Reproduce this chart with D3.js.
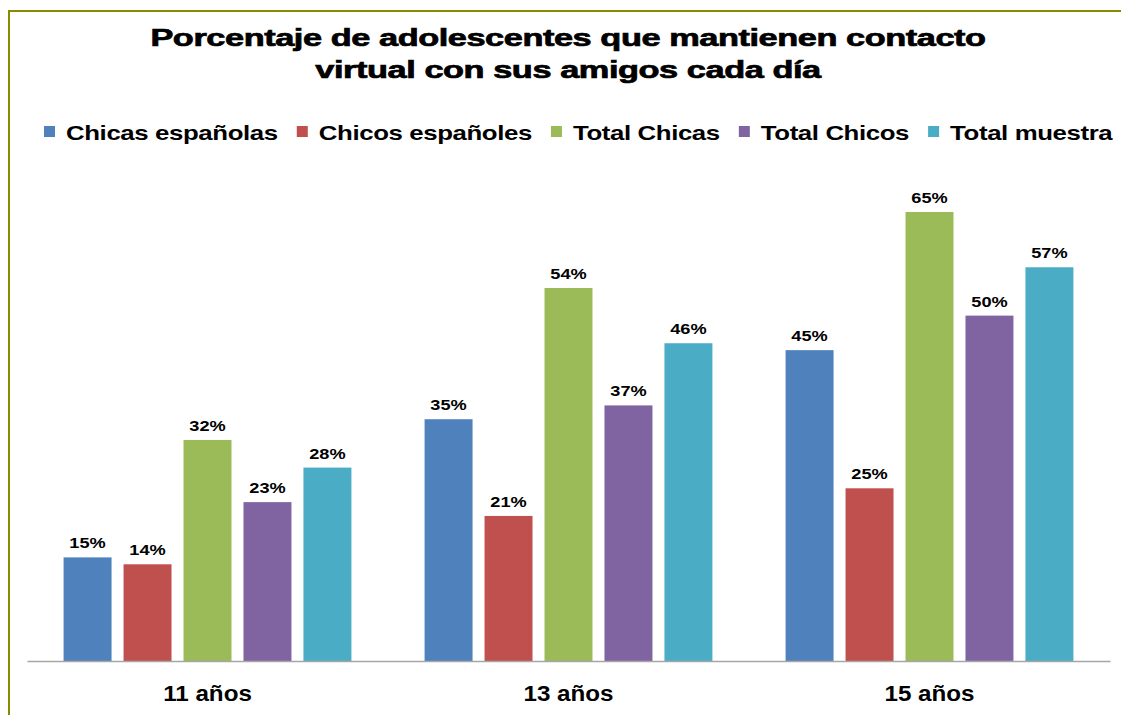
<!DOCTYPE html>
<html>
<head>
<meta charset="utf-8">
<script src="https://cdn.jsdelivr.net/npm/d3@7"></script>
<style>
  body { margin: 0; background: #fff; }
  text { font-family: "Liberation Sans", Arial, sans-serif; font-weight: bold; fill: #000; }
</style>
</head>
<body>
<script>
// Data
var edades = ["11 años", "13 años", "15 años"];
var series = ["Chicas españolas", "Chicos españoles", "Total Chicas", "Total Chicos", "Total muestra"];
var colores = ["#4F81BD", "#C0504D", "#9BBB59", "#8064A2", "#4BACC6"];
var chicasEsp = [15, 35, 45];
var chicosEsp = [14, 21, 25];
var totalChicas = [32, 54, 65];
var totalChicos = [23, 37, 50];
var totalMuestra = [28, 46, 57];
var valores = [chicasEsp, chicosEsp, totalChicas, totalChicos, totalMuestra];
var titulo = ["Porcentaje de adolescentes que mantienen contacto",
              "virtual con sus amigos cada día"];

var W = 1121, H = 715;
var svg = d3.select("body").append("svg").attr("width", W).attr("height", H);

// the original picture is stretched sideways, so widen the glyphs the same way
function stretch(sel, k) {
  sel.each(function() {
    var t = d3.select(this);
    var x = +t.attr("x") || 0;
    var yy = +t.attr("y") || 0;
    var tr = t.attr("transform") || "";
    t.attr("x", 0).attr("y", 0)
     .attr("transform", tr + " translate(" + x + "," + yy + ") scale(" + k + ",1)");
  });
}

// olive frame (right and bottom edges fall outside the picture)
svg.append("rect")
   .attr("x", 9).attr("y", 11)
   .attr("width", W + 20).attr("height", H + 20)
   .style("fill", "none")
   .style("stroke", "#8A8A00")
   .style("stroke-width", 2);

// Title
svg.selectAll("text.titulo")
   .data(titulo)
   .enter()
   .append("text")
   .attr("class", "titulo")
   .attr("x", 568)
   .attr("y", function(d, i) { return 46 + i * 32; })
   .style("text-anchor", "middle")
   .style("font-size", "24px")
   .style("stroke", "#000")
   .style("stroke-width", 0.7)
   .style("letter-spacing", "-0.3px")
   .text(function(d) { return d; })
   .call(stretch, 1.43);

// Legend
var lx = 44;
series.forEach(function(s, i) {
  svg.append("rect")
     .attr("x", lx).attr("y", 126)
     .attr("width", 11).attr("height", 11)
     .style("fill", colores[i]);
  var t = svg.append("text")
     .attr("x", lx + 22).attr("y", 140)
     .style("font-size", "20px")
     .style("letter-spacing", "-0.3px")
     .text(s);
  var w = t.node().getComputedTextLength() * 1.29;
  t.call(stretch, 1.29);
  lx = lx + 22 + w + 19;
});

// Scales
var x0 = d3.scaleBand().domain(edades).range([27, 1110]).padding(0);
var x1 = d3.scaleBand().domain(series).range([0, x0.bandwidth()])
           .paddingInner(0.2).paddingOuter(0.61);
var y = d3.scaleLinear().domain([0, 65]).range([661, 212]);

// flatten for drawing
var data = [];
edades.forEach(function(e, gi) {
  series.forEach(function(s, si) {
    data.push({edad: e, serie: s, valor: valores[si][gi], color: colores[si]});
  });
});

// Bars
svg.selectAll("rect.bar")
   .data(data)
   .enter()
   .append("rect")
   .attr("class", "bar")
   .attr("x", function(d) { return x0(d.edad) + x1(d.serie); })
   .attr("y", function(d) { return y(d.valor); })
   .attr("width", x1.bandwidth())
   .attr("height", function(d) { return y(0) - y(d.valor); })
   .style("fill", function(d) { return d.color; });

// Value labels
svg.selectAll("text.valor")
   .data(data)
   .enter()
   .append("text")
   .attr("class", "valor")
   .attr("x", function(d) { return x0(d.edad) + x1(d.serie) + x1.bandwidth() / 2; })
   .attr("y", function(d) { return y(d.valor) - 9; })
   .style("text-anchor", "middle")
   .style("font-size", "14px")
   .text(function(d) { return d.valor + "%"; })
   .call(stretch, 1.3);

// Category axis
var axis = svg.append("g")
   .attr("transform", "translate(0," + y(0) + ")")
   .call(d3.axisBottom(x0).tickSize(0).tickPadding(24));
axis.select(".domain").attr("stroke", "#A6A6A6").attr("stroke-width", 1.5);
axis.selectAll(".tick text")
   .style("font-family", "'Liberation Sans', Arial, sans-serif")
   .style("font-weight", "bold")
   .style("font-size", "22px")
   .attr("fill", "#000")
   .call(stretch, 1.1);
</script>
</body>
</html>
